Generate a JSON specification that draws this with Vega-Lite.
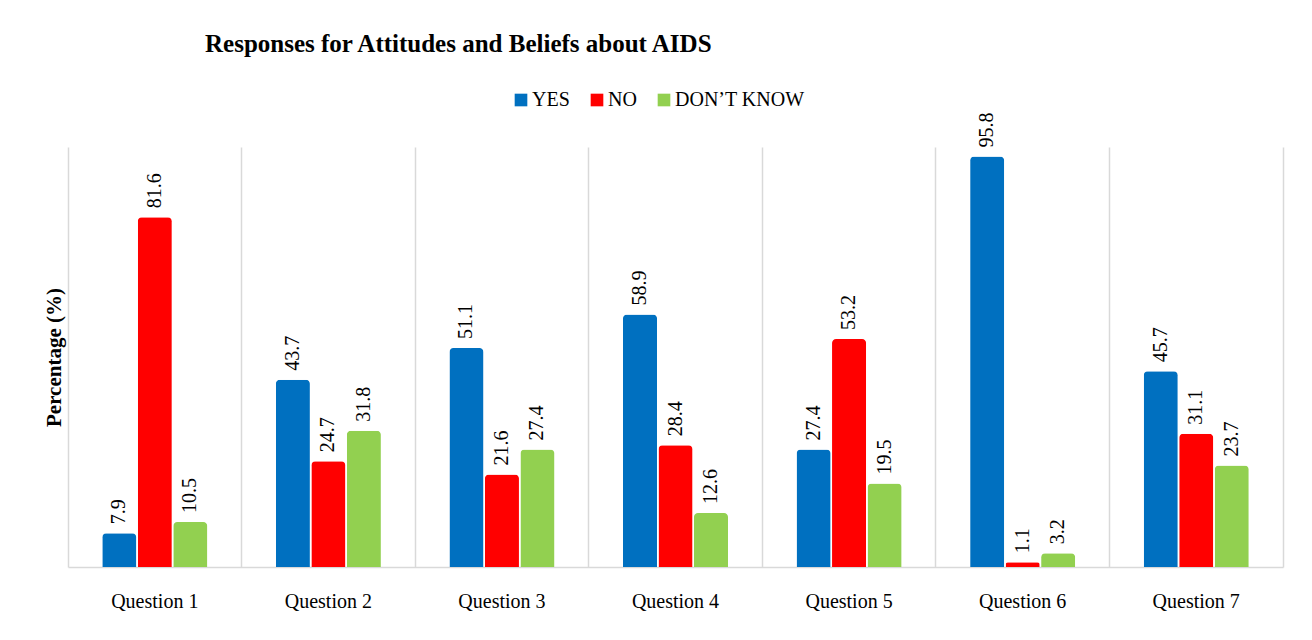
{
  "$schema": "https://vega.github.io/schema/vega-lite/v6.json",
  "autosize": "none",
  "width": 1215,
  "height": 420,
  "padding": {"left": 68, "top": 147, "right": 29, "bottom": 73},
  "background": "white",
  "config": {"view": {"stroke": null}},
  "title": {
    "text": "Responses for Attitudes and Beliefs about AIDS",
    "font": "Liberation Serif",
    "fontSize": 25,
    "fontWeight": "bold",
    "color": "black",
    "anchor": "start",
    "frame": "group",
    "dx": 137,
    "offset": 33
  },
  "data": {
    "values": [
      {"question": "Question 1", "response": "YES", "value": 7.9},
      {"question": "Question 1", "response": "NO", "value": 81.6},
      {"question": "Question 1", "response": "DON’T KNOW", "value": 10.5},
      {"question": "Question 2", "response": "YES", "value": 43.7},
      {"question": "Question 2", "response": "NO", "value": 24.7},
      {"question": "Question 2", "response": "DON’T KNOW", "value": 31.8},
      {"question": "Question 3", "response": "YES", "value": 51.1},
      {"question": "Question 3", "response": "NO", "value": 21.6},
      {"question": "Question 3", "response": "DON’T KNOW", "value": 27.4},
      {"question": "Question 4", "response": "YES", "value": 58.9},
      {"question": "Question 4", "response": "NO", "value": 28.4},
      {"question": "Question 4", "response": "DON’T KNOW", "value": 12.6},
      {"question": "Question 5", "response": "YES", "value": 27.4},
      {"question": "Question 5", "response": "NO", "value": 53.2},
      {"question": "Question 5", "response": "DON’T KNOW", "value": 19.5},
      {"question": "Question 6", "response": "YES", "value": 95.8},
      {"question": "Question 6", "response": "NO", "value": 1.1},
      {"question": "Question 6", "response": "DON’T KNOW", "value": 3.2},
      {"question": "Question 7", "response": "YES", "value": 45.7},
      {"question": "Question 7", "response": "NO", "value": 31.1},
      {"question": "Question 7", "response": "DON’T KNOW", "value": 23.7}
    ]
  },
  "encoding": {
    "x": {
      "field": "question",
      "type": "nominal",
      "scale": {"paddingInner": 0, "paddingOuter": 0},
      "axis": {
        "title": null,
        "labelAngle": 0,
        "labelFont": "Liberation Serif",
        "labelFontSize": 20,
        "labelColor": "black",
        "labelPadding": 24,
        "ticks": false,
        "domainColor": "#d9d9d9",
        "domainWidth": 1.5,
        "grid": true,
        "gridColor": "#d9d9d9",
        "gridWidth": 1.5,
        "bandPosition": 0
      }
    },
    "xOffset": {
      "field": "response",
      "type": "nominal",
      "sort": ["YES", "NO", "DON’T KNOW"],
      "scale": {"paddingInner": 0.04, "paddingOuter": 0.965}
    },
    "y": {
      "field": "value",
      "type": "quantitative",
      "scale": {"domain": [0, 98]}
    }
  },
  "layer": [
    {
      "mark": {"type": "bar", "cornerRadiusTopLeft": 4, "cornerRadiusTopRight": 4},
      "encoding": {
        "y": {
          "field": "value",
          "type": "quantitative",
          "scale": {"domain": [0, 98]},
          "axis": {
            "orient": "left",
            "title": "Percentage (%)",
            "titleFont": "Liberation Serif",
            "titleFontSize": 21,
            "titleFontWeight": "bold",
            "titleColor": "black",
            "titlePadding": 4,
            "labels": false,
            "ticks": false,
            "domain": false,
            "grid": false
          }
        },
        "color": {
          "field": "response",
          "type": "nominal",
          "sort": ["YES", "NO", "DON’T KNOW"],
          "scale": {"domain": ["YES", "NO", "DON’T KNOW"], "range": ["#0070c0", "#ff0000", "#92d050"]},
          "legend": {
            "title": null,
            "orient": "none",
            "legendX": 443,
            "legendY": -57,
            "direction": "horizontal",
            "symbolType": "square",
            "symbolSize": 160,
            "symbolStrokeWidth": 0,
            "labelFont": "Liberation Serif",
            "labelFontSize": 20,
            "labelColor": "black",
            "labelOffset": 1,
            "columnPadding": 17
          }
        }
      }
    },
    {
      "mark": {
        "type": "text",
        "angle": 270,
        "align": "left",
        "baseline": "middle",
        "dx": 9,
        "font": "Liberation Serif",
        "fontSize": 20,
        "color": "black"
      },
      "encoding": {
        "y": {
          "field": "value",
          "type": "quantitative",
          "scale": {"domain": [0, 98]},
          "axis": {
            "orient": "right",
            "title": null,
            "labels": false,
            "ticks": false,
            "grid": false,
            "domain": true,
            "domainColor": "#d9d9d9",
            "domainWidth": 1.5
          }
        },
        "text": {"field": "value", "type": "quantitative", "format": ".1f"}
      }
    }
  ],
  "resolve": {"axis": {"y": "independent"}}
}
